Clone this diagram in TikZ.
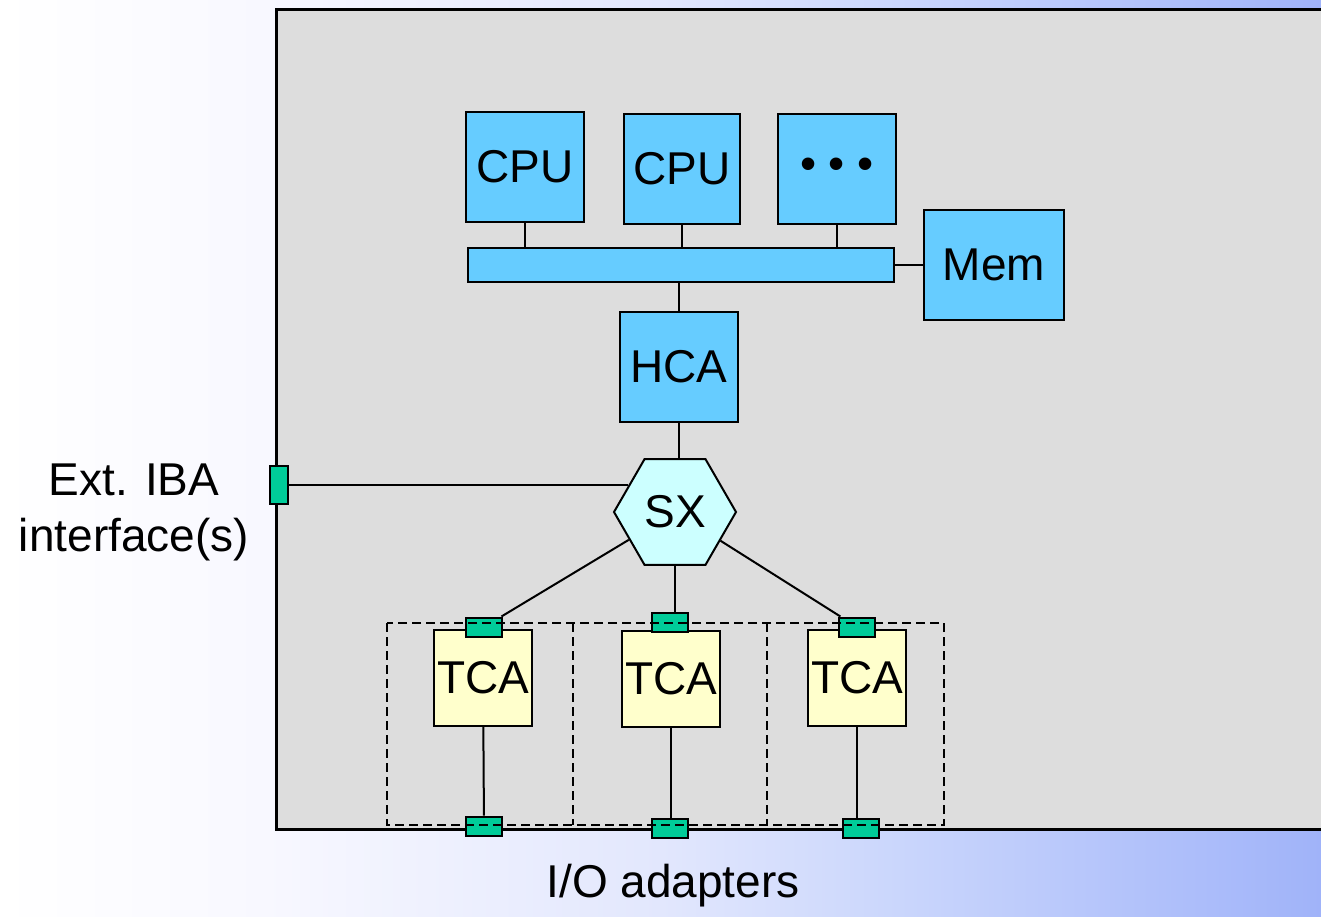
\documentclass[tikz,border=0pt]{standalone}
\usepackage{fontspec}
\setmainfont{Liberation Sans}
\usetikzlibrary{shapes.geometric}

\definecolor{unitblue}{HTML}{66CCFF}
\definecolor{switchcyan}{HTML}{CCFFFF}
\definecolor{tcayellow}{HTML}{FFFFCC}
\definecolor{portgreen}{HTML}{00CC99}
\definecolor{chassisgray}{HTML}{DDDDDD}
\definecolor{slidepale}{HTML}{F8F8FF}
\definecolor{slidemid}{HTML}{E2E7FD}
\definecolor{slidesoft}{HTML}{CAD6FC}
\definecolor{slideblue}{HTML}{A0B3F9}

\pgfdeclarehorizontalshading{slidefade}{100bp}{
  color(0bp)=(white); color(25bp)=(white); color(35bp)=(slidepale);
  color(50bp)=(slidemid); color(59bp)=(slidesoft);
  color(75bp)=(slideblue); color(100bp)=(slideblue)}

\begin{document}
\begin{tikzpicture}[
  x=1pt, y=-1pt,
  line width=2pt,
  unit/.style={
    draw,
    fill=unitblue,
    inner sep=0pt,
    font=\fontsize{46}{54}\selectfont
  },
  tcabox/.style={
    draw,
    fill=tcayellow,
    inner sep=0pt,
    minimum width=98pt,
    minimum height=96pt,
    font=\fontsize{46}{54}\selectfont
  },
  port/.style={
    draw,
    fill=portgreen,
    inner sep=0pt,
    minimum width=36pt,
    minimum height=19pt
  },
  cell/.style={draw, dash pattern=on 9pt off 5pt},
  note/.style={align=center, font=\fontsize{46}{56}\selectfont}
]
\useasboundingbox (0,0) rectangle (1321,917);

% Slide background and chassis
\shade[shading=slidefade] (0,0) rectangle (1321,917);
\draw[fill=chassisgray, line width=3pt] (276,10) rectangle (1400,829);

% Processors, memory and bus
\node[unit, minimum width=118pt, minimum height=110pt] (cpu1) at (525,167) {CPU};
\node[unit, minimum width=116pt, minimum height=110pt] (cpu2) at (682,169) {CPU};
\node[unit, minimum width=118pt, minimum height=110pt] (more) at (837,169) {\textbullet\ \textbullet\ \textbullet};
\node[unit, minimum width=426pt, minimum height=34pt] (bus) at (681,265) {};
\node[unit, minimum width=140pt, minimum height=110pt] (mem) at (994,265) {Mem};
\node[unit, minimum width=118pt, minimum height=110pt] (hca) at (679,367) {HCA};

% Switch
\node[draw, fill=switchcyan, regular polygon, regular polygon sides=6,
  minimum size=122pt, inner sep=0pt, font=\fontsize{46}{54}\selectfont]
  (sx) at (675,512) {SX};

% External port
\node[draw, fill=portgreen, inner sep=0pt, minimum width=18pt, minimum height=38pt]
  (extport) at (279,485) {};
\node[note] (extnote) at (134,512) {Ext. IBA\\interface(s)};

% I/O adapters
\node[tcabox] (tca1) at (483,678) {TCA};
\node[tcabox] (tca2) at (671,679) {TCA};
\node[tcabox] (tca3) at (857,678) {TCA};

\node[port] (top1) at (484,627) {};
\node[port] (top2) at (670,622) {};
\node[port] (top3) at (857,627) {};
\node[port] (bot1) at (484,826) {};
\node[port] (bot2) at (670,828) {};
\node[port] (bot3) at (861,828) {};

\draw[cell] (387,623) rectangle (944,825);
\draw[cell] (573,623) -- (573,825);
\draw[cell] (767,623) -- (767,825);

\node[note] (ionote) at (673,886) {I/O adapters};

% Links
\draw (cpu1) -- (cpu1 |- bus.north);
\draw (cpu2) -- (cpu2 |- bus.north);
\draw (more) -- (more |- bus.north);
\draw (bus) -- (mem);
\draw (hca) -- (hca |- bus.south);
\draw (hca) -- (hca |- sx.north);
\draw (extport.east |- sx.150) -- (sx.150);
\draw (sx) -- (top1);
\draw (sx.south) -- (sx.south |- top2.north);
\draw (sx) -- (top3);
\draw (tca1) -- (bot1);
\draw (tca2) -- (tca2 |- bot2.north);
\draw (tca3.south) -- (tca3.south |- bot3.north);

\end{tikzpicture}
\end{document}
